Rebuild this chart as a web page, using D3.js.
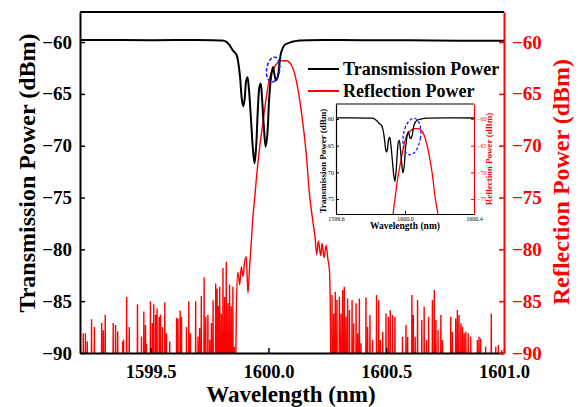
<!DOCTYPE html>
<html><head><meta charset="utf-8">
<script src="https://cdn.jsdelivr.net/npm/d3@7"></script>
<style>
html,body{margin:0;padding:0;background:#fff;}
svg{display:block;font-family:"Liberation Serif","Times New Roman",serif;font-weight:bold;}
</style></head>
<body>
<svg id="chart" width="578" height="407"></svg>
<script>
// ---------------- DATA ----------------
// Transmission spectrum (black)
const transWl = [1599.20,1599.50,1599.80,1599.82,1599.835,1599.849,1599.864,1599.872,1599.880,1599.887,1599.893,1599.899,1599.905,1599.911,1599.917,1599.926,1599.934,1599.941,1599.948,1599.955,1599.962,1599.967,1599.973,1599.980,1599.988,1599.995,1600.003,1600.012,1600.019,1600.026,1600.032,1600.040,1600.047,1600.054,1600.068,1600.097,1600.132,1600.40,1600.70,1601.00];
const transDb = [-59.80,-59.82,-59.85,-59.95,-60.3,-60.8,-61.2,-62.0,-63.5,-65.5,-66.2,-65.5,-63.8,-63.4,-64.5,-67.5,-70.3,-71.7,-70.0,-66.5,-64.3,-64.0,-65.5,-68.0,-70.1,-69.0,-65.5,-63.2,-62.4,-63.2,-63.7,-63.3,-62.0,-61.0,-60.3,-60.0,-59.85,-59.82,-59.85,-59.88];

// Reflection spectrum (red): noise spikes on the short-wavelength side
const reflLeftWl = [1599.200,1599.214,1599.223,1599.231,1599.249,1599.261,1599.292,1599.299,1599.307,1599.341,1599.351,1599.360,1599.381,1599.385,1599.398,1599.409,1599.444,1599.461,1599.471,1599.478,1599.482,1599.499,1599.507,1599.513,1599.521,1599.527,1599.536,1599.542,1599.550,1599.560,1599.567,1599.581,1599.610,1599.616,1599.625,1599.631,1599.652,1599.662,1599.669,1599.691,1599.701,1599.708,1599.715,1599.727,1599.734,1599.743,1599.751,1599.758,1599.765,1599.776,1599.782,1599.788,1599.793,1599.800,1599.807,1599.814,1599.821,1599.828,1599.835,1599.842,1599.849,1599.856];
const reflLeftDb = [-89.4,-88.1,-88.1,-88.9,-86.75,-87.5,-87.1,-87.8,-86.3,-87.1,-87.3,-87.9,-88.9,-88.7,-84.6,-87.5,-85.3,-88.4,-86.0,-87.3,-89.1,-85.0,-87.1,-85.3,-86.3,-85.7,-86.5,-86.3,-87.5,-85.1,-88.1,-88.9,-86.6,-86.7,-85.9,-86.5,-87.5,-85.0,-88.1,-85.0,-88.4,-87.6,-84.5,-82.7,-86.5,-86.3,-88.7,-87.1,-84.9,-83.3,-83.8,-85.5,-83.6,-86.2,-81.8,-84.6,-81.2,-85.2,-83.4,-85.5,-83.6,-89.4];
// Reflection band (continuous part)
const reflBodyWl = [1599.860,1599.864,1599.870,1599.878,1599.885,1599.892,1599.899,1599.906,1599.913,1599.920,1599.927,1599.934,1599.941,1599.955,1599.976,1599.991,1600.005,1600.026,1600.054,1600.075,1600.097,1600.118,1600.139,1600.160,1600.174,1600.188,1600.198,1600.205,1600.212,1600.222,1600.228,1600.236,1600.245,1600.252,1600.259,1600.262,1600.266];
const reflBodyDb = [-93,-85.5,-82.2,-83.4,-81.7,-82.6,-81.2,-80.7,-84.2,-81.7,-79.4,-76.9,-75.2,-71.7,-67.85,-65.3,-63.5,-62.4,-61.8,-61.8,-62.2,-63.7,-66.6,-70.7,-74.6,-77.2,-78.9,-80.5,-79.2,-80.6,-79.4,-80.8,-79.6,-80.9,-82.0,-84.6,-93];
// noise spikes on the long-wavelength side
const reflRightWl = [1600.270,1600.277,1600.284,1600.291,1600.301,1600.308,1600.315,1600.322,1600.329,1600.336,1600.344,1600.355,1600.362,1600.372,1600.379,1600.386,1600.393,1600.414,1600.421,1600.431,1600.442,1600.459,1600.468,1600.475,1600.485,1600.499,1600.509,1600.517,1600.527,1600.537,1600.569,1600.584,1600.591,1600.609,1600.615,1600.623,1600.633,1600.651,1600.661,1600.671,1600.680,1600.696,1600.704,1600.711,1600.720,1600.732,1600.739,1600.774,1600.781,1600.795,1600.802,1600.809,1600.817,1600.824,1600.831,1600.838,1600.848,1600.859,1600.887,1600.894,1600.901,1600.922,1600.946,1600.965,1600.976,1600.990];
const reflRightDb = [-84.41,-86.18,-84.09,-84.89,-84.57,-86.18,-83.93,-83.60,-86.50,-84.73,-85.85,-84.89,-87.14,-85.21,-88.10,-84.73,-89.07,-84.63,-87.46,-86.34,-88.75,-84.41,-84.89,-88.75,-87.94,-86.18,-86.50,-85.85,-86.34,-86.50,-88.43,-87.30,-88.43,-84.41,-86.34,-88.43,-84.89,-86.82,-85.53,-88.75,-86.50,-84.89,-83.93,-86.82,-87.78,-86.34,-88.75,-86.50,-87.94,-86.66,-85.85,-86.34,-87.14,-87.46,-88.10,-87.94,-88.10,-88.43,-88.75,-88.43,-88.59,-89.39,-86.18,-89.39,-89.23,-89.7];
// between noise spikes the measured signal falls below the -90 dBm display floor
const reflFloor = -93;

// ticks
const xTicksMain = [1599.5, 1600.0, 1600.5, 1601.0];
const yTicksMain = [-90, -85, -80, -75, -70, -65, -60];
const xTicksInset = [1599.6, 1600.0, 1600.4];
const yTicksInset = [-75, -70, -65, -60];

// dashed ellipse annotations (centre wavelength, centre dBm)
const ellipseMain = [1600.020, -62.66];
const ellipseInset = [1600.040, -63.3];

const legendLabels = ["Transmission Power", "Reflection Power"];

// ---------------- BUILD ----------------
function spikes(wl, db) {
  const out = [];
  const hw = 0.0011;
  for (let i = 0; i < wl.length; i++) {
    out.push([wl[i] - hw, reflFloor], [wl[i], db[i]], [wl[i] + hw, reflFloor]);
  }
  return out;
}
const transPts = transWl.map((w, i) => [w, transDb[i]]);
const reflBody = reflBodyWl.map((w, i) => [w, reflBodyDb[i]]);
const reflNoise = [spikes(reflLeftWl, reflLeftDb), spikes(reflRightWl, reflRightDb)];

const svg = d3.select("#chart");
const RED = "#ff0000";

// ---------- main plot ----------
const M = {l: 80, r: 504, t: 12, b: 353};
const x = d3.scaleLinear().domain([1599.2, 1601.0]).range([M.l, M.r]);
const y = d3.scaleLinear().domain([-90, -57.1]).range([M.b, M.t]);

const defs = svg.append("defs");
defs.append("clipPath").attr("id", "clipMain").append("rect")
  .attr("x", M.l).attr("y", M.t).attr("width", M.r - M.l).attr("height", M.b - M.t + 1);

function drawCurves(g, xs, ys, wT, wR) {
  const lineT = d3.line().x(d => xs(d[0])).y(d => ys(d[1])).curve(d3.curveCatmullRom.alpha(0.5));
  const lineB = d3.line().x(d => xs(d[0])).y(d => ys(d[1])).curve(d3.curveMonotoneX);
  const lineN = d3.line().x(d => xs(d[0])).y(d => ys(d[1]));
  reflNoise.forEach(seg => g.append("path").datum(seg).attr("d", lineN).attr("fill", "none")
    .attr("stroke", RED).attr("stroke-width", wR).attr("stroke-linejoin", "miter"));
  g.append("path").datum(reflBody).attr("d", lineB).attr("fill", "none").attr("stroke", RED).attr("stroke-width", wR);
  g.append("path").datum(transPts).attr("d", lineT).attr("fill", "none").attr("stroke", "#000").attr("stroke-width", wT);
}

const gm = svg.append("g").attr("clip-path", "url(#clipMain)");
drawCurves(gm, x, y, 2, 1.4);

gm.append("ellipse").attr("cx", x(ellipseMain[0])).attr("cy", y(ellipseMain[1]))
  .attr("rx", 6.5).attr("ry", 12.5).attr("fill", "none").attr("stroke", "#1a1aff")
  .attr("stroke-width", 1.6).attr("stroke-dasharray", "3.5,2")
  .attr("transform", `rotate(8 ${x(ellipseMain[0])} ${y(ellipseMain[1])})`);

// axes
const axL = d3.axisLeft(y).tickValues(yTicksMain).tickSize(-5).tickSizeOuter(0).tickPadding(8).tickFormat(d3.format("d"));
const axR = d3.axisRight(y).tickValues(yTicksMain).tickSize(-5).tickSizeOuter(0).tickPadding(8).tickFormat(d3.format("d"));
const axB = d3.axisBottom(x).tickValues(xTicksMain).tickSize(-5).tickSizeOuter(0).tickPadding(12).tickFormat(d3.format(".1f"));

function styleAxis(g, color, fs) {
  g.selectAll("path.domain").attr("stroke", color).attr("stroke-width", 2);
  g.selectAll(".tick line").attr("stroke", color).attr("stroke-width", 1.5);
  g.selectAll(".tick text").attr("fill", color).style("font-size", fs + "px")
    .style("font-family", '"Liberation Serif","Times New Roman",serif').style("font-weight", "bold");
}
const gB = svg.append("g").attr("transform", `translate(0,${M.b})`).call(axB);
styleAxis(gB, "#000", 18.5);
const gL = svg.append("g").attr("transform", `translate(${M.l},0)`).call(axL);
styleAxis(gL, "#000", 19);
const gR = svg.append("g").attr("transform", `translate(${M.r},0)`).call(axR);
styleAxis(gR, RED, 19);
gR.selectAll(".tick text").attr("x", 8);
svg.append("line").attr("x1", M.l).attr("x2", M.r).attr("y1", M.t).attr("y2", M.t).attr("stroke", "#000").attr("stroke-width", 2);

// titles
svg.append("text").attr("transform", "translate(27,173) rotate(-90)").attr("text-anchor", "middle")
  .attr("dy", "0.35em").style("font-size", "24px").attr("fill", "#000").text("Transmission Power (dBm)");
svg.append("text").attr("transform", "translate(561,182) rotate(-90)").attr("text-anchor", "middle")
  .attr("dy", "0.35em").style("font-size", "24px").attr("fill", RED).text("Reflection Power (dBm)");
svg.append("text").attr("x", 291).attr("y", 402).attr("text-anchor", "middle")
  .style("font-size", "23px").attr("fill", "#000").text("Wavelength (nm)");

// legend
const legColors = ["#000", RED];
const legY = [69, 91];
legendLabels.forEach((lab, i) => {
  svg.append("line").attr("x1", 308).attr("x2", 339).attr("y1", legY[i]).attr("y2", legY[i])
    .attr("stroke", legColors[i]).attr("stroke-width", 2);
  svg.append("text").attr("x", 343).attr("y", legY[i] + 6).style("font-size", "18px").attr("fill", "#000").text(lab);
});

// ---------- inset ----------
const I = {l: 336, r: 474, t: 104, b: 214};
const xi = d3.scaleLinear().domain([1599.6, 1600.4]).range([I.l, I.r]);
const yi = d3.scaleLinear().domain([-77.8, -57.2]).range([I.b, I.t]);
svg.append("rect").attr("x", I.l).attr("y", I.t).attr("width", I.r - I.l).attr("height", I.b - I.t).attr("fill", "#fff");
defs.append("clipPath").attr("id", "clipInset").append("rect")
  .attr("x", I.l).attr("y", I.t).attr("width", I.r - I.l).attr("height", I.b - I.t);
const gi = svg.append("g").attr("clip-path", "url(#clipInset)");
drawCurves(gi, xi, yi, 1.3, 1.3);
gi.append("ellipse").attr("cx", xi(ellipseInset[0])).attr("cy", yi(ellipseInset[1]))
  .attr("rx", 8.7).attr("ry", 18.3).attr("fill", "none").attr("stroke", "#1a1aff")
  .attr("stroke-width", 1.3).attr("stroke-dasharray", "3,2")
  .attr("transform", `rotate(8 ${xi(ellipseInset[0])} ${yi(ellipseInset[1])})`);

const aiL = d3.axisLeft(yi).tickValues(yTicksInset).tickSize(-3).tickSizeOuter(0).tickPadding(2).tickFormat(d3.format("d"));
const aiR = d3.axisRight(yi).tickValues(yTicksInset).tickSize(-3).tickSizeOuter(0).tickPadding(2).tickFormat(d3.format("d"));
const aiB = d3.axisBottom(xi).tickValues(xTicksInset).tickSize(-3).tickSizeOuter(0).tickPadding(3).tickFormat(d3.format(".1f"));
function styleInset(g, color) {
  g.selectAll("path.domain").attr("stroke", color).attr("stroke-width", 1.2);
  g.selectAll(".tick line").attr("stroke", color).attr("stroke-width", 1);
  g.selectAll(".tick text").attr("fill", color).style("font-size", "6px")
    .style("font-family", '"Liberation Serif","Times New Roman",serif').style("font-weight", "normal");
}
const giB = svg.append("g").attr("transform", `translate(0,${I.b})`).call(aiB); styleInset(giB, "#000");
const giL = svg.append("g").attr("transform", `translate(${I.l},0)`).call(aiL); styleInset(giL, "#000");
const giR = svg.append("g").attr("transform", `translate(${I.r},0)`).call(aiR); styleInset(giR, RED);
giR.selectAll(".tick text").attr("x", 3);
svg.append("line").attr("x1", I.l).attr("x2", I.r).attr("y1", I.t).attr("y2", I.t).attr("stroke", "#000").attr("stroke-width", 1.2);

svg.append("text").attr("transform", "translate(323,161) rotate(-90)").attr("text-anchor", "middle")
  .attr("dy", "0.35em").style("font-size", "9px").attr("fill", "#000").text("Transmission Power (dBm)");
svg.append("text").attr("transform", "translate(489,159) rotate(-90)").attr("text-anchor", "middle")
  .attr("dy", "0.35em").style("font-size", "9px").attr("fill", RED).text("Reflection Power (dBm)");
svg.append("text").attr("x", 405).attr("y", 229).attr("text-anchor", "middle")
  .style("font-size", "9.5px").attr("fill", "#000").text("Wavelength (nm)");
</script>
</body></html>
